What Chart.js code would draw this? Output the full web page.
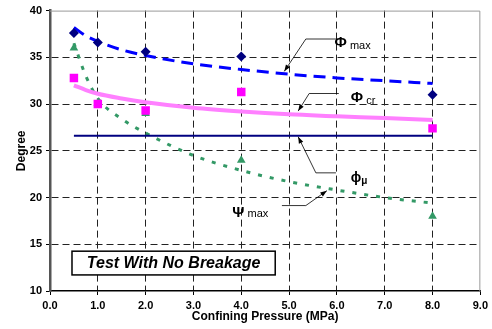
<!DOCTYPE html>
<html>
<head>
<meta charset="utf-8">
<script src="https://cdn.jsdelivr.net/npm/chart.js@4"></script>
<style>
  html, body { margin: 0; padding: 0; background: #fff; }
  #wrap { width: 492px; height: 329px; }
</style>
</head>
<body>
<div id="wrap"><canvas id="chart" width="492" height="329"></canvas></div>
<script>
// Test data: confining pressure (MPa) vs angle (degrees)
const pressure = [0.5, 1, 2, 4, 8];
const phiMax = [37.6, 36.6, 35.6, 35.1, 31.0];
const phiCr = [32.8, 30.0, 29.3, 31.3, 27.4];
const psiMax = [36.0, 30.1, 29.0, 24.0, 18.0];

// Trend curves
const trendX = [0.5, 0.75, 1, 1.5, 2, 3, 4, 5, 6, 7, 8];
const phiMaxTrend = [38.2, 37.3, 36.7, 35.8, 35.2, 34.3, 33.7, 33.2, 32.8, 32.5, 32.2];
const phiCrTrend = [32.0, 31.5, 31.1, 30.6, 30.2, 29.6, 29.2, 28.9, 28.7, 28.5, 28.3];
const psiMaxTrend = [36.5, 33.0, 30.6, 28.4, 26.9, 24.5, 22.9, 21.7, 20.8, 20.0, 19.4];

// Residual friction angle (flat line)
const phiMuX = [0.5, 8];
const phiMuY = [26.6, 26.6];

// Annotation labels: [x, y] in data units
const labelPhiMax = [6.08, 36.5];
const labelPhiCr = [6.42, 30.7];
const labelPhiMu = [6.40, 22.1];
const labelPsiMax = [3.94, 18.4];
// Arrows: start, knee, head
const arrowPhiMax = [[5.98, 36.96], [5.35, 36.96], [4.90, 33.5]];
const arrowPhiCr = [[6.04, 31.13], [5.42, 31.13], [5.19, 29.25]];
const arrowPhiMu = [[5.98, 22.64], [5.56, 22.64], [5.19, 26.5]];
const arrowPsiMax = [[4.85, 19.14], [5.35, 19.14], [5.79, 20.73]];
// Caption box corners
const boxText = 'Test With No Breakage';
const boxCorners = [[0.46, 14.26], [4.71, 11.72]];

const FONT = '"Liberation Sans", Arial, sans-serif';

function pts(xs, ys) {
  return xs.map((x, i) => ({ x: x, y: ys[i] }));
}

const annotations = {
  id: 'annotations',
  afterDraw(chart) {
    const ctx = chart.ctx;
    const xs = chart.scales.x;
    const ys = chart.scales.y;
    const px = (v) => xs.getPixelForValue(v);
    const py = (v) => ys.getPixelForValue(v);
    const area = chart.chartArea;

    ctx.save();
    // top and right frame of the plot
    ctx.strokeStyle = '#999';
    ctx.lineWidth = 1;
    ctx.beginPath();
    ctx.moveTo(area.left, area.top + 0.5);
    ctx.lineTo(area.right - 0.5, area.top + 0.5);
    ctx.lineTo(area.right - 0.5, area.bottom);
    ctx.stroke();

    // arrows
    function arrow(a) {
      const p = a.map((q) => [px(q[0]), py(q[1])]);
      ctx.strokeStyle = '#000';
      ctx.fillStyle = '#000';
      ctx.lineWidth = 0.8;
      ctx.beginPath();
      ctx.moveTo(p[0][0], p[0][1]);
      ctx.lineTo(p[1][0], p[1][1]);
      ctx.lineTo(p[2][0], p[2][1]);
      ctx.stroke();
      const ang = Math.atan2(p[2][1] - p[1][1], p[2][0] - p[1][0]);
      const len = 7;
      ctx.beginPath();
      ctx.moveTo(p[2][0], p[2][1]);
      ctx.lineTo(p[2][0] - len * Math.cos(ang - 0.35), p[2][1] - len * Math.sin(ang - 0.35));
      ctx.lineTo(p[2][0] - len * Math.cos(ang + 0.35), p[2][1] - len * Math.sin(ang + 0.35));
      ctx.closePath();
      ctx.fill();
    }
    arrow(arrowPhiMax);
    arrow(arrowPhiCr);
    arrow(arrowPhiMu);
    arrow(arrowPsiMax);

    // labels with subscripts
    function label(pos, main, sub, mainSize, subSize, subBold, subDy, gap) {
      const x = px(pos[0]);
      const y = py(pos[1]);
      ctx.fillStyle = '#000';
      ctx.textBaseline = 'middle';
      ctx.textAlign = 'center';
      ctx.font = 'bold ' + mainSize + 'px ' + FONT;
      ctx.fillText(main, x, y);
      const w = ctx.measureText(main).width;
      ctx.textAlign = 'left';
      ctx.font = (subBold ? 'bold ' : '') + subSize + 'px ' + FONT;
      ctx.fillText(sub, x + w / 2 + gap, y + subDy);
    }
    label(labelPhiMax, 'Φ', 'max', 15, 11, false, 3, 3);
    label(labelPhiCr, 'Φ', 'cr', 15, 11, false, 3, 3);
    label(labelPhiMu, 'ϕ', 'μ', 14, 10, true, 3, 0);
    label(labelPsiMax, 'Ψ', 'max', 15, 11, false, 1, 3);

    // caption box
    const bx1 = px(boxCorners[0][0]);
    const by1 = py(boxCorners[0][1]);
    const bx2 = px(boxCorners[1][0]);
    const by2 = py(boxCorners[1][1]);
    ctx.fillStyle = '#fff';
    ctx.fillRect(bx1, by1, bx2 - bx1, by2 - by1);
    ctx.strokeStyle = '#000';
    ctx.lineWidth = 1.5;
    ctx.strokeRect(bx1, by1, bx2 - bx1, by2 - by1);
    ctx.fillStyle = '#000';
    ctx.textAlign = 'center';
    ctx.textBaseline = 'middle';
    ctx.font = 'italic bold 16px ' + FONT;
    ctx.fillText(boxText, (bx1 + bx2) / 2, (by1 + by2) / 2 + 1);
    ctx.restore();
  }
};

const ctx = document.getElementById('chart').getContext('2d');
const chart = new Chart(ctx, {
  type: 'scatter',
  data: {
    datasets: [
      {
        label: 'Phi max',
        data: pts(pressure, phiMax),
        pointStyle: 'rectRot',
        pointRadius: 5,
        backgroundColor: '#000080',
        borderColor: '#000080',
        borderWidth: 0,
        showLine: false,
      },
      {
        label: 'Phi cr',
        data: pts(pressure, phiCr),
        pointStyle: 'rect',
        pointRadius: 6,
        backgroundColor: '#ff00ff',
        borderColor: '#ff00ff',
        borderWidth: 0,
        showLine: false,
      },
      {
        label: 'Psi max',
        data: pts(pressure, psiMax),
        pointStyle: 'triangle',
        pointRadius: 5,
        backgroundColor: '#339966',
        borderColor: '#339966',
        borderWidth: 0,
        showLine: false,
      },
      {
        label: 'Phi mu',
        data: pts(phiMuX, phiMuY),
        showLine: true,
        pointRadius: 0,
        borderColor: '#000080',
        borderWidth: 2,
      },
      {
        label: 'Phi max trend',
        data: pts(trendX, phiMaxTrend),
        showLine: true,
        pointRadius: 0,
        borderColor: '#0000ff',
        borderWidth: 3,
        borderDash: [12, 7],
        cubicInterpolationMode: 'monotone',
      },
      {
        label: 'Phi cr trend',
        data: pts(trendX, phiCrTrend),
        showLine: true,
        pointRadius: 0,
        borderColor: '#ff80ff',
        borderWidth: 4,
        cubicInterpolationMode: 'monotone',
      },
      {
        label: 'Psi max trend',
        data: pts(trendX, psiMaxTrend),
        showLine: true,
        pointRadius: 0,
        borderColor: '#339966',
        borderWidth: 3,
        borderDash: [4, 8],
        cubicInterpolationMode: 'monotone',
      },
    ],
  },
  options: {
    responsive: false,
    animation: false,
    layout: { padding: { left: 0, right: 10, top: 8, bottom: 0 } },
    plugins: {
      legend: { display: false },
      tooltip: { enabled: false },
    },
    scales: {
      x: {
        type: 'linear',
        min: 0,
        max: 9,
        afterFit: (s) => { s.height = 38; },
        ticks: {
          stepSize: 1,
          padding: 4,
          color: '#000',
          font: { family: FONT, size: 11, weight: 'bold' },
          callback: (v) => v.toFixed(1),
        },
        grid: {
          color: (c) => (c.tick && (c.tick.value === 0 || c.tick.value === 9) ? 'rgba(0,0,0,0)' : '#222'),
          lineWidth: 1,
          tickColor: '#000',
          tickLength: 4,
        },
        border: { color: '#000', width: 1.5, dash: [7, 4] },
        title: {
          display: true,
          text: 'Confining Pressure (MPa)',
          color: '#000',
          font: { family: FONT, size: 12, weight: 'bold' },
          padding: { top: 0, bottom: 5 },
        },
      },
      y: {
        min: 10,
        max: 40,
        afterFit: (s) => { s.width = 50; },
        ticks: {
          stepSize: 5,
          padding: 4,
          color: '#000',
          font: { family: FONT, size: 11, weight: 'bold' },
        },
        grid: {
          color: (c) => (c.tick && (c.tick.value === 10 || c.tick.value === 40) ? 'rgba(0,0,0,0)' : '#222'),
          lineWidth: 1,
          tickColor: '#000',
          tickLength: 4,
        },
        border: { color: '#555', width: 2.5, dash: [7, 4] },
        title: {
          display: true,
          text: 'Degree',
          color: '#000',
          font: { family: FONT, size: 12, weight: 'bold' },
          padding: { top: 14, bottom: 0 },
        },
      },
    },
  },
  plugins: [annotations],
});
</script>
</body>
</html>
